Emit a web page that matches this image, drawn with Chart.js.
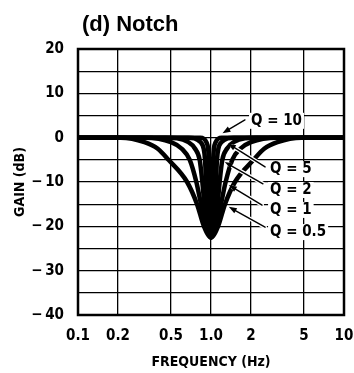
<!DOCTYPE html>
<html>
<head>
<meta charset="utf-8">
<script src="https://cdn.jsdelivr.net/npm/chart.js@4/dist/chart.umd.min.js"></script>
<style>
  html, body { margin: 0; padding: 0; background: #fff; }
  #wrap { width: 354px; height: 373px; position: relative; }
</style>
</head>
<body>
<div id="wrap"><canvas id="notchChart"></canvas></div>
<script>
// gain levels (dB) shared by every curve: flat, down into the notch, back up
const gainLevels = [0, 0, -1, -2.5, -5, -10, -15, -20, -22.5, -20, -15, -10, -5, -2.5, -1, 0, 0];

// frequency (Hz) where each curve crosses those gain levels
const freqQ05 = [0.1, 0.209, 0.316, 0.398, 0.479, 0.661, 0.785, 0.885, 1.0, 1.130, 1.274, 1.514, 2.09, 2.51, 3.16, 4.79, 10];
const freqQ1 = [0.1, 0.316, 0.501, 0.603, 0.692, 0.776, 0.841, 0.912, 1.0, 1.096, 1.189, 1.288, 1.445, 1.660, 1.995, 3.16, 10];
const freqQ2 = [0.1, 0.457, 0.676, 0.759, 0.822, 0.861, 0.891, 0.933, 1.0, 1.072, 1.122, 1.161, 1.216, 1.318, 1.479, 2.188, 10];
const freqQ5 = [0.1, 0.676, 0.832, 0.881, 0.902, 0.918, 0.938, 0.959, 1.0, 1.042, 1.067, 1.089, 1.109, 1.135, 1.202, 1.479, 10];
const freqQ10 = [0.1, 0.832, 0.923, 0.951, 0.964, 0.973, 0.979, 0.989, 1.0, 1.012, 1.021, 1.028, 1.038, 1.052, 1.084, 1.202, 10];

const seriesNames = ['Q = 0.5', 'Q = 1', 'Q = 2', 'Q = 5', 'Q = 10'];
const seriesFreqs = [freqQ05, freqQ1, freqQ2, freqQ5, freqQ10];

const freqTicks = [0.1, 0.2, 0.5, 1, 2, 5, 10];
const freqTickLabels = ['0.1', '0.2', '0.5', '1.0', '2', '5', '10'];

// callouts: label spot, arrow start and arrow tip, all in (Hz, dB)
const callouts = [
  { text: 'Q = 10', at: [2.0, 3.8], from: [1.80, 4.0], to: [1.22, 1.0] },
  { text: 'Q = 5', at: [2.78, -7.1], from: [2.55, -6.6], to: [1.34, -1.3] },
  { text: 'Q = 2', at: [2.78, -11.8], from: [2.46, -10.4], to: [1.27, -5.5] },
  { text: 'Q = 1', at: [2.78, -16.3], from: [2.42, -15.2], to: [1.36, -10.7] },
  { text: 'Q = 0.5', at: [2.78, -21.3], from: [2.55, -20.2], to: [1.36, -15.6] }
];

const narrow = '"Liberation Sans Narrow", "DejaVu Sans Condensed", "Arial Narrow", sans-serif';

function gainLabel(v) {
  if (v % 10 !== 0) return '';
  return v < 0 ? '\u2212\u2009' + Math.abs(v) : String(v);
}

const calloutPlugin = {
  id: 'callouts',
  afterDatasetsDraw(chart) {
    const { ctx, chartArea, scales: { x, y } } = chart;
    ctx.save();
    ctx.strokeStyle = '#000';
    ctx.lineWidth = 2.5;
    ctx.strokeRect(chartArea.left, chartArea.top, chartArea.width, chartArea.height);

    ctx.font = 'bold 15px ' + narrow;
    ctx.textBaseline = 'middle';
    ctx.textAlign = 'left';
    callouts.forEach(c => {
      const tx = x.getPixelForValue(c.at[0]);
      const ty = y.getPixelForValue(c.at[1]);
      const w = ctx.measureText(c.text).width;
      ctx.fillStyle = '#fff';
      ctx.fillRect(tx - 2, ty - 8, w + 4, 16);
      ctx.fillStyle = '#000';
      ctx.fillText(c.text, tx, ty);

      const x0 = x.getPixelForValue(c.from[0]), y0 = y.getPixelForValue(c.from[1]);
      const x1 = x.getPixelForValue(c.to[0]), y1 = y.getPixelForValue(c.to[1]);
      const ang = Math.atan2(y1 - y0, x1 - x0);
      const ex = x1 - 5 * Math.cos(ang), ey = y1 - 5 * Math.sin(ang);
      ctx.lineCap = 'round';
      ctx.strokeStyle = '#fff';
      ctx.lineWidth = 4;
      ctx.beginPath(); ctx.moveTo(x0, y0); ctx.lineTo(ex, ey); ctx.stroke();
      ctx.strokeStyle = '#000';
      ctx.lineWidth = 1.4;
      ctx.beginPath(); ctx.moveTo(x0, y0); ctx.lineTo(ex, ey); ctx.stroke();
      ctx.beginPath();
      ctx.moveTo(x1, y1);
      ctx.lineTo(x1 - 8 * Math.cos(ang) + 3 * Math.sin(ang), y1 - 8 * Math.sin(ang) - 3 * Math.cos(ang));
      ctx.lineTo(x1 - 8 * Math.cos(ang) - 3 * Math.sin(ang), y1 - 8 * Math.sin(ang) + 3 * Math.cos(ang));
      ctx.closePath();
      ctx.fill();
    });

    ctx.font = 'bold 22px "Liberation Sans", Arial, sans-serif';
    ctx.textBaseline = 'alphabetic';
    ctx.fillText('(d) Notch', 82, 31);
    ctx.restore();
  }
};

new Chart(document.getElementById('notchChart'), {
  type: 'line',
  data: {
    datasets: seriesFreqs.map((f, i) => ({
      label: seriesNames[i],
      data: f.map((v, k) => ({ x: v, y: gainLevels[k] })),
      borderColor: '#000',
      borderWidth: 4.5,
      pointRadius: 0,
      cubicInterpolationMode: 'monotone',
      fill: false
    }))
  },
  options: {
    responsive: true,
    maintainAspectRatio: false,
    animation: false,
    layout: { padding: { top: 49, right: 10, left: 0, bottom: 0 } },
    plugins: { legend: { display: false }, tooltip: { enabled: false } },
    scales: {
      x: {
        type: 'logarithmic',
        min: 0.1,
        max: 10,
        afterBuildTicks: s => { s.ticks = freqTicks.map(v => ({ value: v })); },
        afterFit: s => { s.height = 58; s.paddingLeft = 0; s.paddingRight = 0; },
        ticks: {
          autoSkip: false, maxRotation: 0, padding: 12, color: '#000',
          font: { family: narrow, size: 15, weight: 'bold' },
          callback: (v, i) => freqTickLabels[i]
        },
        grid: { color: '#000', lineWidth: 1.3, drawTicks: false },
        border: { display: false },
        title: {
          display: true, text: 'FREQUENCY (Hz)', color: '#000',
          font: { family: narrow, size: 14, weight: 'bold' },
          padding: { top: 0, bottom: 2 }
        }
      },
      y: {
        min: -40,
        max: 20,
        afterFit: s => { s.width = 78; s.paddingTop = 0; s.paddingBottom = 0; },
        ticks: {
          stepSize: 5, padding: 14, color: '#000',
          font: { family: narrow, size: 15, weight: 'bold' },
          callback: v => gainLabel(v)
        },
        grid: { color: '#000', lineWidth: 1.3, drawTicks: false },
        border: { display: false },
        title: {
          display: true, text: 'GAIN (dB)', color: '#000',
          font: { family: narrow, size: 14, weight: 'bold' },
          padding: { top: 12, bottom: 0 }
        }
      }
    }
  },
  plugins: [calloutPlugin]
});
</script>
</body>
</html>
